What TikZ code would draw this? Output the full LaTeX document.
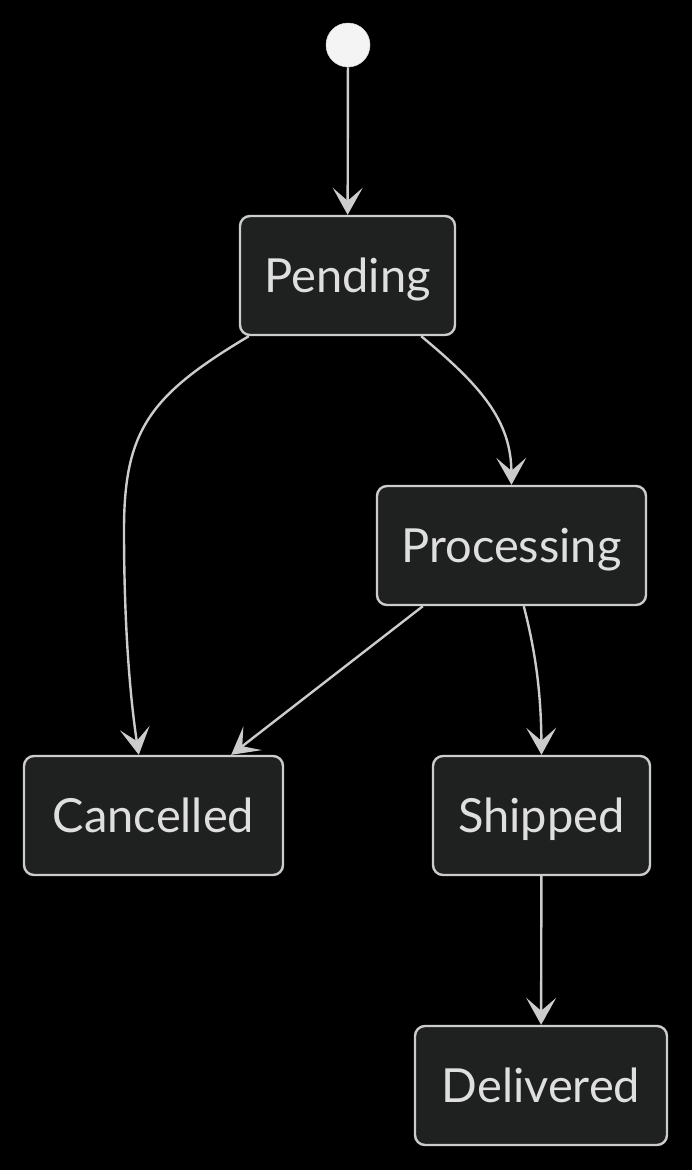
\documentclass[tikz,border=0pt]{standalone}
\usepackage{fontspec}
\setmainfont{Lato}
\usetikzlibrary{arrows.meta}
\definecolor{boxfill}{HTML}{1F2020}
\definecolor{boxline}{HTML}{CCCCCC}
\definecolor{txt}{HTML}{E0DFDF}
\definecolor{startfill}{HTML}{F4F4F4}
\begin{document}
\begin{tikzpicture}[x=1pt,y=-1pt,
  state/.style={draw=boxline,fill=boxfill,line width=2.4pt,rounded corners=10pt,
    text=txt,font=\fontsize{47}{52}\selectfont,inner sep=0pt,minimum height=119pt,
    text height=33pt,text depth=0pt},
  edge/.style={draw=boxline,line width=2.4pt,
    -{Stealth[length=27pt,width=30pt,inset=13pt]}}]
\fill[black] (0,0) rectangle (692,1170);
\useasboundingbox (0,0) rectangle (692,1170);
\node[circle,fill=startfill,draw=startfill!90!black,line width=0.5pt,minimum size=44pt,inner sep=0pt] (start) at (348,45) {};
\node[state,minimum width=215pt] (pending) at (347.5,275.5) {Pending};
\node[state,minimum width=269pt] (processing) at (511.5,545.5) {Processing};
\node[state,minimum width=259pt] (cancelled) at (153.5,815.5) {Cancelled};
\node[state,minimum width=217pt] (shipped) at (541.5,815.5) {Shipped};
\node[state,minimum width=252pt] (delivered) at (541,1085.5) {Delivered};

\draw[edge] (start) -- (pending);
\draw[edge] ([xshift=10pt]pending.south west) .. controls (150,395) and (124,430) .. (124,530)
  .. controls (124,640) and (132,710) .. ([xshift=116pt]cancelled.north west);
\draw[edge] ([xshift=-35pt]pending.south east) .. controls (480,385) and (511,420) .. (processing.north);
\draw[edge] ([xshift=47pt]processing.south west) -- ([xshift=-53pt]cancelled.north east);
\draw[edge] ([xshift=148pt]processing.south west) .. controls (535,650) and (541,690) .. (shipped.north);
\draw[edge] (shipped) -- (delivered);
\end{tikzpicture}
\end{document}
